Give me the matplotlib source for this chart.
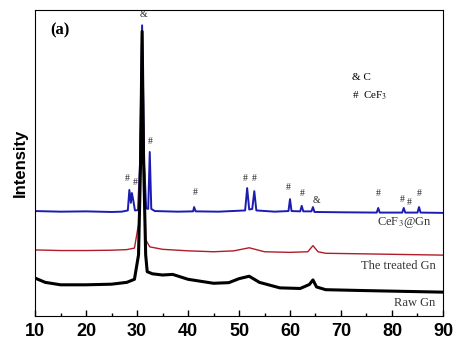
import matplotlib.pyplot as plt

plt.rcParams['mathtext.fontset'] = 'stix'

# XRD patterns (2theta, intensity in arbitrary units 0-100)
blue_x = [10, 15, 20, 25, 27, 28.2, 28.5, 28.8, 29.0, 29.3, 29.6, 30.2, 30.6, 31.0, 31.4, 31.8,
          32.2, 32.5, 32.8, 33.5, 38, 41.0, 41.2, 41.5, 46, 51.2, 51.6, 52.0, 52.6, 53.0, 53.4,
          57, 59.7, 60.0, 60.3, 62.0, 62.3, 62.6, 64.2, 64.5, 64.8, 70, 77.0, 77.3, 77.6,
          82.0, 82.3, 82.6, 85.0, 85.3, 85.6, 90]
blue_y = [34.3, 34.1, 34.2, 34.0, 34.1, 34.5, 41.2, 37.0, 40.2, 37.5, 34.5, 34.6, 50, 95, 50, 35.2,
          35.0, 53.6, 35.0, 34.3, 34.1, 34.2, 35.6, 34.2, 34.1, 34.5, 41.8, 34.8, 35.0, 40.8, 34.5,
          34.1, 34.3, 38.2, 34.3, 34.2, 36.0, 34.2, 34.2, 35.6, 34.0, 33.9, 33.8, 35.3, 33.8,
          33.8, 35.3, 33.8, 33.8, 35.6, 33.8, 33.7]

red_x = [10, 15, 20, 25, 28, 29.5, 30.3, 30.7, 31.0, 31.3, 31.7, 32.5, 35, 40, 45, 49, 52, 55,
         60, 63.5, 64.5, 65.5, 67, 75, 90]
red_y = [21.6, 21.4, 21.4, 21.5, 21.7, 22.2, 30, 60, 85, 60, 25, 22.6, 21.8, 21.3, 21.0, 21.3, 22.3, 21.0,
         20.8, 21.0, 23.0, 21.0, 20.5, 20.3, 19.9]

black_x = [10, 12, 15, 20, 25, 28, 29.5, 30.3, 30.7, 31.0, 31.3, 31.7, 32, 33, 35, 37, 40, 45,
           48, 50, 52, 54, 58, 62, 63.8, 64.5, 65.2, 67, 75, 90]
black_y = [12.4, 11.0, 10.2, 10.2, 10.4, 11.0, 12.0, 20, 50, 93, 50, 20, 14.5, 13.8, 13.4, 13.6,
           12.0, 10.7, 10.9, 12.2, 13.0, 11.0, 9.2, 9.0, 10.3, 11.8, 9.5, 8.6, 8.3, 7.8]

# peak markers: (2theta, height, symbol)
mark_x = [31.2, 32.6, 28.0, 29.6, 41.4, 51.2, 53.0, 59.6, 62.4, 65.1, 77.3, 82.0, 83.4, 85.4]
mark_y = [98.4, 56.9, 45.0, 43.5, 40.5, 45.0, 44.8, 42.0, 40.0, 37.9, 39.9, 38.0, 37.0, 39.9]
mark_s = ['&', '#', '#', '#', '#', '#', '#', '#', '#', '&', '#', '#', '#', '#']

fig = plt.figure(figsize=(4.63, 3.5), dpi=100)
ax = fig.add_axes([0.0756, 0.0971, 0.8812, 0.8743])

ax.plot(blue_x, blue_y, color='#1c1cb0', lw=1.4)
ax.plot(red_x, red_y, color='#b01c2a', lw=1.0)
ax.plot(black_x, black_y, color='black', lw=2.2)

for x, y, s in zip(mark_x, mark_y, mark_s):
    ax.text(x, y, s, family='Liberation Serif', fontsize=7, ha='center', va='center', color='#222222')

ax.text(12.9, 93.5, '(a)', family='Liberation Serif', fontweight='bold', fontsize=12, va='center')
ax.text(72.2, 77.8, '& C', family='Liberation Serif', fontsize=8, va='center')
ax.text(72.2, 72.0, '#  CeF$_3$', family='Liberation Serif', fontsize=8, va='center')
ax.text(87.8, 30.4, 'CeF$_3$@Gn', family='Liberation Serif', fontsize=9, ha='right', va='center', color='#333333')
ax.text(88.6, 16.3, 'The treated Gn', family='Liberation Serif', fontsize=9, ha='right', va='center', color='#333333')
ax.text(88.4, 4.2, 'Raw Gn', family='Liberation Serif', fontsize=9, ha='right', va='center', color='#333333')

ax.set_xlim(10, 90)
ax.set_ylim(0, 100)
ax.set_xticks(range(10, 91, 10))
ax.set_xticks(range(15, 90, 10), minor=True)
ax.tick_params(axis='x', which='major', direction='in', length=4, width=1, pad=5)
ax.tick_params(axis='x', which='minor', direction='in', length=2.5, width=1)
ax.set_yticks([])
for lab in ax.get_xticklabels():
    lab.set_family('Liberation Sans')
    lab.set_fontweight('bold')
    lab.set_fontsize(13)
ax.set_ylabel('Intensity', family='Liberation Sans', fontweight='bold', fontsize=12, labelpad=5)

fig.savefig('out.png', dpi=100)
